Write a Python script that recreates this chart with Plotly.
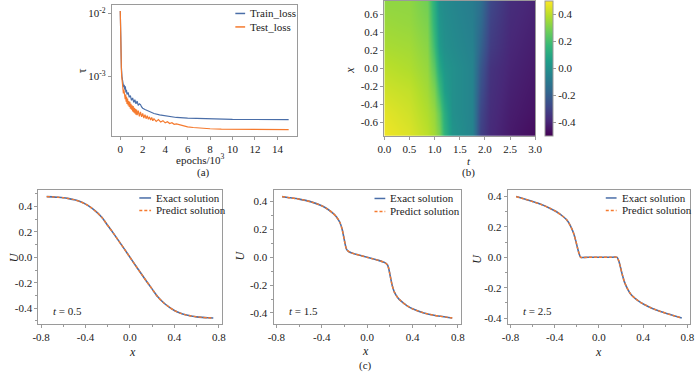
import plotly.graph_objects as go

FONT = "'Liberation Serif', 'Times New Roman', Times, serif"
BLUE = "#4a6ea8"
ORANGE = "#f57a2e"
FRAME = "#9a9a9a"
TXT = "#222"

# ---------------- (a) loss curves ----------------
epochs_train = [0, 0.03, 0.06, 0.1, 0.15, 0.2, 0.25, 0.3, 0.35, 0.4, 0.45, 0.5, 0.55, 0.6,
                0.7, 0.8, 0.9, 1.0, 1.1, 1.2, 1.3, 1.4, 1.5, 1.6, 1.7, 1.8, 1.9, 2.0, 2.2,
                2.4, 2.6, 2.8, 3.0, 3.5, 4.0, 4.5, 5.0, 6.0, 7.0, 8.0, 9.0, 10, 12, 15]
train_loss = [1.1e-2, 3.5e-3, 2.0e-3, 1.4e-3, 1.0e-3, 8.5e-4, 7.5e-4, 6.8e-4, 7.4e-4, 6.2e-4,
              7.0e-4, 5.6e-4, 6.2e-4, 5.2e-4, 5.6e-4, 4.7e-4, 5.0e-4, 4.2e-4, 4.6e-4, 3.9e-4,
              4.3e-4, 3.7e-4, 4.1e-4, 3.5e-4, 3.7e-4, 3.6e-4, 3.3e-4, 3.15e-4, 3.0e-4, 2.9e-4,
              2.8e-4, 2.7e-4, 2.6e-4, 2.48e-4, 2.38e-4, 2.3e-4, 2.25e-4, 2.2e-4, 2.16e-4,
              2.13e-4, 2.11e-4, 2.1e-4, 2.09e-4, 2.08e-4]

epochs_test = [0, 0.02, 0.04, 0.06, 0.08, 0.1, 0.13, 0.16, 0.2, 0.24, 0.28, 0.32, 0.36, 0.4,
               0.44, 0.48, 0.52, 0.56, 0.6, 0.65, 0.7, 0.75, 0.8, 0.85, 0.9, 0.95, 1.0, 1.05,
               1.1, 1.15, 1.2, 1.25, 1.3, 1.35, 1.4, 1.45, 1.5, 1.6, 1.7, 1.8, 1.9, 2.0, 2.1,
               2.2, 2.3, 2.4, 2.5, 2.6, 2.7, 2.8, 2.9, 3.0, 3.2, 3.4, 3.6, 3.8, 4.0, 4.2, 4.4,
               4.6, 4.8, 5.0, 5.5, 6.0, 6.5, 7.0, 7.5, 8.0, 9.0, 10, 11, 12, 13, 14, 15]
test_loss = [1.1e-2, 4.0e-3, 2.6e-3, 1.9e-3, 1.5e-3, 1.25e-3, 1.0e-3, 8.5e-4, 7.2e-4, 6.3e-4,
             5.4e-4, 6.2e-4, 4.8e-4, 5.6e-4, 4.4e-4, 5.2e-4, 4.0e-4, 4.8e-4, 3.7e-4, 4.5e-4,
             3.5e-4, 4.1e-4, 3.3e-4, 4.0e-4, 3.1e-4, 3.7e-4, 3.0e-4, 3.5e-4, 2.8e-4, 3.4e-4,
             2.7e-4, 3.2e-4, 2.6e-4, 3.1e-4, 2.5e-4, 3.0e-4, 2.45e-4, 2.9e-4, 2.35e-4, 2.75e-4,
             2.3e-4, 2.6e-4, 2.2e-4, 2.5e-4, 2.15e-4, 2.4e-4, 2.1e-4, 2.3e-4, 2.05e-4, 2.25e-4,
             2.0e-4, 2.15e-4, 1.95e-4, 2.08e-4, 1.9e-4, 2.0e-4, 1.85e-4, 1.93e-4, 1.8e-4,
             1.86e-4, 1.75e-4, 1.78e-4, 1.68e-4, 1.6e-4, 1.56e-4, 1.53e-4, 1.51e-4, 1.49e-4,
             1.47e-4, 1.46e-4, 1.45e-4, 1.45e-4, 1.44e-4, 1.44e-4, 1.44e-4]

# ---------------- (b) heatmap u(t, x) ----------------
heat_t = [0, 0.5, 0.85, 1.0, 1.1, 1.2, 1.35, 1.75, 1.9, 2.1, 2.5, 3.0]
heat_x = [-0.75, -0.5, -0.25, 0, 0.25, 0.5, 0.75]
heat_u = [
    [0.48, 0.45, 0.40, 0.36, 0.30, 0.15, 0.02, -0.05, -0.30, -0.38, -0.43, -0.47],
    [0.46, 0.43, 0.38, 0.34, 0.26, 0.12, 0.00, -0.05, -0.28, -0.37, -0.42, -0.45],
    [0.43, 0.41, 0.36, 0.30, 0.18, 0.06, 0.00, -0.05, -0.25, -0.36, -0.41, -0.44],
    [0.40, 0.38, 0.34, 0.24, 0.10, 0.03, 0.00, -0.05, -0.22, -0.35, -0.40, -0.43],
    [0.37, 0.36, 0.32, 0.18, 0.04, 0.00, -0.02, -0.06, -0.18, -0.32, -0.39, -0.42],
    [0.35, 0.34, 0.30, 0.14, 0.02, -0.01, -0.03, -0.07, -0.15, -0.30, -0.38, -0.41],
    [0.33, 0.33, 0.28, 0.12, 0.00, -0.02, -0.04, -0.08, -0.13, -0.28, -0.37, -0.40],
]
cbar_vals = [-0.4, -0.2, 0.0, 0.2, 0.4]
cbar_text = ["-0.4", "-0.2", "0.0", "0.2", "0.4"]

# ---------------- (c) slices ----------------
x_t05 = [-0.75, -0.7, -0.65, -0.6, -0.55, -0.5, -0.45, -0.4, -0.35, -0.3, -0.25, -0.2, -0.15,
         -0.1, -0.05, 0, 0.05, 0.1, 0.15, 0.2, 0.25, 0.3, 0.35, 0.4, 0.45, 0.5, 0.55, 0.6,
         0.65, 0.7, 0.75]
u_t05 = [0.477, 0.475, 0.472, 0.468, 0.461, 0.452, 0.438, 0.418, 0.39, 0.355, 0.31, 0.25,
         0.19, 0.127, 0.064, 0.0, -0.064, -0.127, -0.19, -0.25, -0.31, -0.355, -0.39, -0.418,
         -0.438, -0.452, -0.461, -0.468, -0.472, -0.475, -0.477]

x_t15 = [-0.75, -0.7, -0.6, -0.5, -0.4, -0.35, -0.3, -0.27, -0.24, -0.22, -0.2, -0.19, -0.18,
         -0.16, -0.14, -0.1, -0.05, 0, 0.05, 0.1, 0.14, 0.16, 0.18, 0.19, 0.2, 0.22, 0.24,
         0.27, 0.3, 0.35, 0.4, 0.5, 0.6, 0.7, 0.75]
u_t15 = [0.436, 0.43, 0.418, 0.4, 0.37, 0.347, 0.315, 0.29, 0.25, 0.2, 0.12, 0.08, 0.055,
         0.04, 0.033, 0.022, 0.011, 0.0, -0.011, -0.022, -0.033, -0.04, -0.055, -0.08, -0.12,
         -0.2, -0.25, -0.29, -0.315, -0.347, -0.37, -0.4, -0.418, -0.43, -0.436]

x_t25 = [-0.75, -0.68, -0.6, -0.52, -0.45, -0.38, -0.33, -0.29, -0.26, -0.23, -0.21, -0.195,
         -0.18, -0.165, -0.1, 0, 0.1, 0.165, 0.18, 0.195, 0.21, 0.23, 0.26, 0.29, 0.33, 0.38,
         0.45, 0.52, 0.6, 0.68, 0.75]
u_t25 = [0.40, 0.385, 0.367, 0.347, 0.325, 0.298, 0.272, 0.245, 0.21, 0.16, 0.11, 0.065,
         0.025, 0.0, 0.0, 0.0, 0.0, 0.0, -0.025, -0.065, -0.11, -0.16, -0.21, -0.245, -0.272,
         -0.298, -0.325, -0.347, -0.367, -0.385, -0.40]

slice_labels = ["<i>t</i> = 0.5", "<i>t</i> = 1.5", "<i>t</i> = 2.5"]
loss_names = ["Train_loss", "Test_loss"]
solution_names = ["Exact solution", "Predict solution"]
u_ticks = [-0.4, -0.2, 0.0, 0.2, 0.4]
u_ticktext = ["-0.4", "-0.2", "0.0", "0.2", "0.4"]
x_ticks = [-0.8, -0.4, 0.0, 0.4, 0.8]
x_ticktext = ["-0.8", "-0.4", "0.0", "0.4", "0.8"]

W, H = 700, 372


def dx(a, b):
    return [a / W, b / W]


def dy(top, bottom):
    return [1 - bottom / H, 1 - top / H]


fig = go.Figure()

tickfont = dict(family=FONT, size=11, color=TXT)


def axis_style(**kw):
    d = dict(showline=True, mirror=True, linecolor=FRAME, linewidth=1, ticks="outside",
             ticklen=3, tickcolor=FRAME, showgrid=False, zeroline=False, tickfont=tickfont)
    d.update(kw)
    return d


# (a)
fig.add_trace(go.Scatter(x=epochs_train, y=train_loss, mode="lines", name=loss_names[0],
                         line=dict(color=BLUE, width=1.2), xaxis="x", yaxis="y"))
fig.add_trace(go.Scatter(x=epochs_test, y=test_loss, mode="lines", name=loss_names[1],
                         line=dict(color=ORANGE, width=1.2), xaxis="x", yaxis="y"))

# (b)
fig.add_trace(go.Heatmap(x=heat_t, y=heat_x, z=heat_u, colorscale="Viridis", zmin=-0.5, zmax=0.5,
                         zsmooth="best", xaxis="x2", yaxis="y2",
                         colorbar=dict(x=549 / W, xanchor="left", y=1 - 135 / H, yanchor="bottom",
                                       len=135 / H, lenmode="fraction", thickness=8,
                                       thicknessmode="pixels", outlinecolor=FRAME, outlinewidth=1,
                                       tickvals=cbar_vals, ticktext=cbar_text, ticks="outside",
                                       ticklen=3, tickcolor=FRAME, tickfont=tickfont,
                                       xpad=0, ypad=0)))

# (c)
slices = [(x_t05, u_t05), (x_t15, u_t15), (x_t25, u_t25)]
for i, (xs, us) in enumerate(slices):
    ax = str(i + 3)
    fig.add_trace(go.Scatter(x=xs, y=us, mode="lines", name=solution_names[0],
                             line=dict(color=BLUE, width=1.6, shape="spline", smoothing=0.6),
                             xaxis="x" + ax, yaxis="y" + ax))
    fig.add_trace(go.Scatter(x=xs, y=us, mode="lines", name=solution_names[1],
                             line=dict(color=ORANGE, width=1.4, dash="3px,2px", shape="spline",
                                       smoothing=0.6),
                             xaxis="x" + ax, yaxis="y" + ax))

c_xdom = [dx(32, 219), dx(272, 463), dx(511, 697)]
c_yrange = [[-0.525, 0.525], [-0.48, 0.48], [-0.44, 0.44]]

layout = dict(
    width=W, height=H, margin=dict(l=0, r=0, t=0, b=0), showlegend=False,
    paper_bgcolor="white", plot_bgcolor="white",
    font=dict(family=FONT, size=11, color=TXT),
    xaxis=axis_style(domain=dx(107, 296), range=[-0.75, 15.75], tickvals=[0, 2, 4, 6, 8, 10, 12, 14],
                     anchor="y"),
    yaxis=axis_style(domain=dy(4, 135), type="log", range=[-3.936, -1.864],
                     tickvals=[1e-3, 1e-2], ticktext=["10<sup>-3</sup>", "10<sup>-2</sup>"],
                     anchor="x"),
    xaxis2=axis_style(domain=dx(385, 539), range=[0, 3], tickvals=[0, 0.5, 1, 1.5, 2, 2.5, 3],
                      ticktext=["0.0", "0.5", "1.0", "1.5", "2.0", "2.5", "3.0"], anchor="y2"),
    yaxis2=axis_style(domain=dy(0, 135), range=[-0.75, 0.75],
                      tickvals=[-0.6, -0.4, -0.2, 0, 0.2, 0.4, 0.6],
                      ticktext=["-0.6", "-0.4", "-0.2", "0.0", "0.2", "0.4", "0.6"], anchor="x2"),
)
for i in range(3):
    n = str(i + 3)
    layout["xaxis" + n] = axis_style(domain=c_xdom[i], range=[-0.825, 0.825], tickvals=x_ticks,
                                     ticktext=x_ticktext, anchor="y" + n,
                                     minor=dict(tickvals=[-0.6, -0.2, 0.2, 0.6], ticks="outside",
                                                ticklen=2, tickcolor=FRAME))
    layout["yaxis" + n] = axis_style(domain=dy(190, 324), range=c_yrange[i], tickvals=u_ticks,
                                     ticktext=u_ticktext, anchor="x" + n,
                                     minor=dict(tickvals=[-0.5, -0.3, -0.1, 0.1, 0.3, 0.5],
                                                ticks="outside", ticklen=2, tickcolor=FRAME))


def txt(text, px, py, angle=0, size=11, xanchor="center"):
    return dict(text=text, x=px / W, y=1 - py / H, xref="paper", yref="paper", showarrow=False,
                xanchor=xanchor, yanchor="middle", textangle=angle,
                font=dict(family=FONT, size=size, color=TXT))


annotations = [
    txt("epochs/10<sup>3</sup>", 197, 158),
    txt("(a)", 201, 172),
    txt("τ", 76, 70, -90, 12),
    txt("<i>t</i>", 471, 160),
    txt("(b)", 471, 172),
    txt("<i>x</i>", 350, 70, -90, 12),
    txt("(c)", 366, 365),
    txt("<i>x</i>", 128, 352, 0, 12),
    txt("<i>x</i>", 366, 351, 0, 12),
    txt("<i>x</i>", 604, 352, 0, 12),
    txt("<i>U</i>", 7, 257, -90, 12),
    txt("<i>U</i>", 238, 255, -90, 12),
    txt("<i>U</i>", 480, 258, -90, 12),
]
for i in range(3):
    n = str(i + 3)
    annotations.append(dict(text=slice_labels[i], x=0.07, y=0.1, xref="x" + n + " domain",
                            yref="y" + n + " domain", xanchor="left", yanchor="middle",
                            showarrow=False, font=dict(family=FONT, size=11, color=TXT)))

# hand-drawn legends (compact, like the original)
shapes = []
legend_specs = [
    # (line x0, line x1, text x, y first row, y second row, names, dashed second)
    (233, 243, 246, 12.5, 26, loss_names, False),
    (135, 147, 150, 197.5, 210, solution_names, True),
    (375, 386, 389, 198, 211, solution_names, True),
    (611, 622, 625, 197.5, 210, solution_names, True),
]
for lx0, lx1, tx, y1, y2, names, dashed in legend_specs:
    for k, (yy, nm) in enumerate([(y1, names[0]), (y2, names[1])]):
        col = BLUE if k == 0 else ORANGE
        dash = "3px,2px" if (dashed and k == 1) else "solid"
        shapes.append(dict(type="line", xref="paper", yref="paper", x0=lx0 / W, x1=lx1 / W,
                           y0=1 - yy / H, y1=1 - yy / H,
                           line=dict(color=col, width=1.5, dash=dash)))
        annotations.append(txt(nm, tx, yy, 0, 11, "left"))

layout["annotations"] = annotations
layout["shapes"] = shapes

fig.update_layout(**layout)
fig.write_html("out.html", config={"displayModeBar": False},
               post_script="document.body.style.margin='0';")
